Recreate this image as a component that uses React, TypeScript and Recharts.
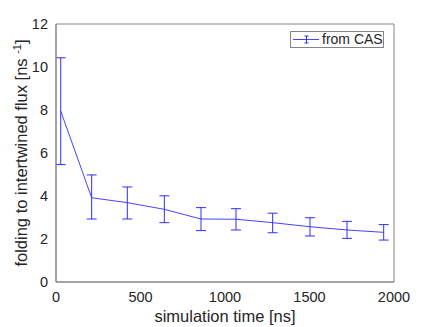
import { LineChart, Line, XAxis, YAxis, ErrorBar, Label } from 'recharts';

// simulation time [ns]
const times = [28, 211, 422, 641, 858, 1065, 1282, 1503, 1722, 1939];
// folding to intertwined flux [ns^-1]
const flux = [7.95, 3.92, 3.69, 3.38, 2.93, 2.92, 2.76, 2.57, 2.42, 2.31];
const fluxUpper = [10.43, 4.98, 4.42, 4.01, 3.46, 3.41, 3.2, 2.99, 2.82, 2.67];
const fluxLower = [5.46, 2.93, 2.93, 2.76, 2.39, 2.42, 2.29, 2.14, 2.03, 1.95];

const xTicks = [0, 500, 1000, 1500, 2000];
const yTicks = [0, 2, 4, 6, 8, 10, 12];
const seriesName = 'from CAS';

const data = times.map((t, i) => ({
  x: t,
  y: flux[i],
  err: [flux[i] - fluxLower[i], fluxUpper[i] - flux[i]],
}));

const BLUE = '#2f2fff';
const AXIS = '#858585';
const TEXT = '#262626';
const FONT = '"Liberation Sans", Arial, Helvetica, sans-serif';

export default function App() {
  return (
    <div style={{ position: 'absolute', left: 0, top: 0, width: 436, height: 327, background: '#fff', fontFamily: FONT }}>
      <LineChart width={436} height={327} data={data} margin={{ top: 24, right: 42, bottom: 0, left: 0 }}>
        <XAxis
          dataKey="x"
          type="number"
          domain={[0, 2000]}
          ticks={xTicks}
          tickLine={false}
          tickSize={0}
          tickMargin={10}
          height={45}
          axisLine={{ stroke: AXIS }}
          tick={{ fill: TEXT, fontSize: 14.5, fontFamily: FONT }}
        >
          <Label
            value="simulation time [ns]"
            position="insideBottom"
            offset={5}
            fill={TEXT}
            fontSize={16.5}
            fontFamily={FONT}
          />
        </XAxis>
        <YAxis
          type="number"
          domain={[0, 12]}
          ticks={yTicks}
          tickLine={false}
          tickSize={0}
          tickMargin={8}
          width={56}
          axisLine={{ stroke: AXIS }}
          tick={{ fill: TEXT, fontSize: 14.5, fontFamily: FONT }}
        >
          <Label
            content={() => (
              <text
                transform="translate(27,153) rotate(-90)"
                textAnchor="middle"
                fill={TEXT}
                fontSize={16.5}
                fontFamily={FONT}
              >
                folding to intertwined flux [ns{' '}
                <tspan baselineShift="super" fontSize={11}>-1</tspan>]
              </text>
            )}
          />
        </YAxis>
        {/* inward tick marks and box, MATLAB style */}
        <XAxis xAxisId="xb" orientation="bottom" mirror type="number" domain={[0, 2000]} ticks={xTicks}
          tick={false} tickSize={4} axisLine={{ stroke: AXIS }} tickLine={{ stroke: AXIS }} height={1} />
        <XAxis xAxisId="xt" orientation="top" mirror type="number" domain={[0, 2000]} ticks={xTicks}
          tick={false} tickSize={4} axisLine={{ stroke: AXIS }} tickLine={{ stroke: AXIS }} height={1} />
        <YAxis yAxisId="yl" orientation="left" mirror type="number" domain={[0, 12]} ticks={yTicks}
          tick={false} tickSize={4} axisLine={{ stroke: AXIS }} tickLine={{ stroke: AXIS }} width={1} />
        <YAxis yAxisId="yr" orientation="right" mirror type="number" domain={[0, 12]} ticks={yTicks}
          tick={false} tickSize={4} axisLine={{ stroke: AXIS }} tickLine={{ stroke: AXIS }} width={1} />
        <Line
          type="linear"
          dataKey="y"
          name={seriesName}
          stroke={BLUE}
          strokeWidth={0.9}
          dot={false}
          isAnimationActive={false}
        >
          <ErrorBar dataKey="err" direction="y" width={5} stroke={BLUE} strokeWidth={1} isAnimationActive={false} />
        </Line>
      </LineChart>
      <div
        style={{
          position: 'absolute',
          left: 290,
          top: 31,
          width: 94,
          height: 17,
          border: `1px solid ${AXIS}`,
          background: '#fff',
          display: 'flex',
          alignItems: 'center',
          boxSizing: 'border-box',
        }}
      >
        <svg width={30} height={15} style={{ flex: 'none' }}>
          <line x1={2} y1={7.5} x2={28} y2={7.5} stroke={BLUE} strokeWidth={0.9} />
          <line x1={15.5} y1={4} x2={15.5} y2={11} stroke={BLUE} strokeWidth={1} />
          <line x1={13.5} y1={4} x2={17.5} y2={4} stroke={BLUE} strokeWidth={1} />
          <line x1={13.5} y1={11} x2={17.5} y2={11} stroke={BLUE} strokeWidth={1} />
        </svg>
        <span style={{ fontSize: 14, color: TEXT, marginLeft: 1, lineHeight: '15px' }}>{seriesName}</span>
      </div>
    </div>
  );
}
